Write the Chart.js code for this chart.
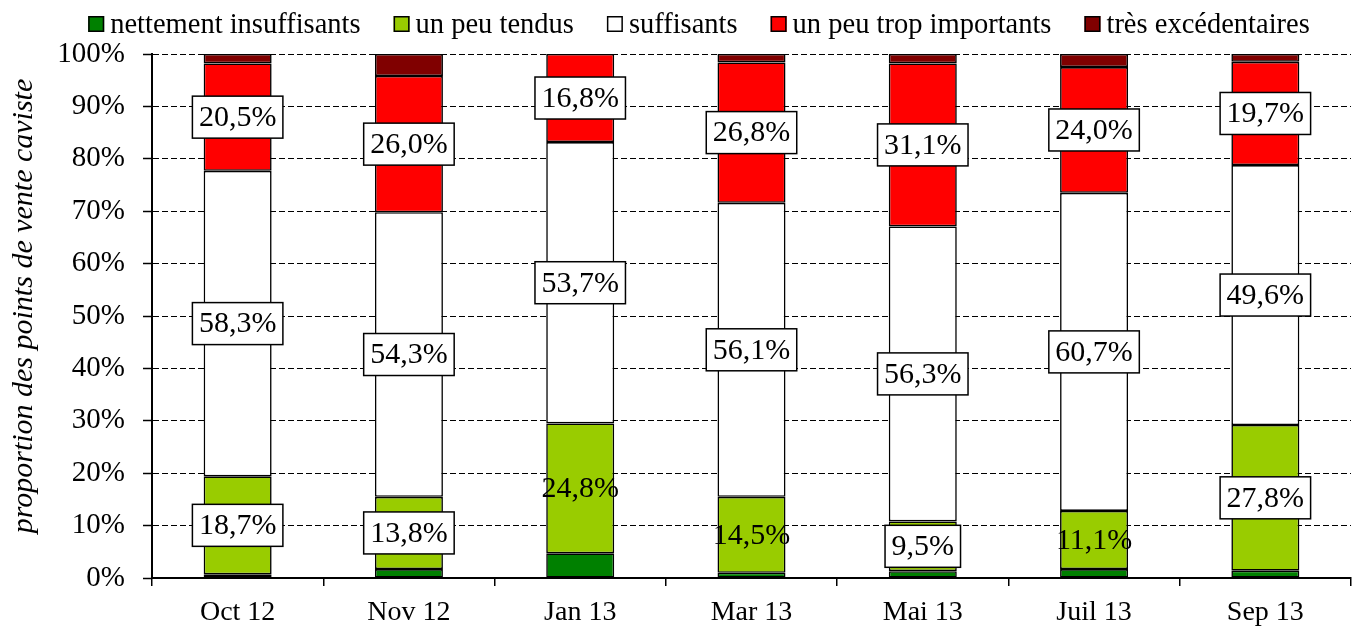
<!DOCTYPE html>
<html>
<head>
<meta charset="utf-8">
<script src="https://cdn.jsdelivr.net/npm/chart.js@4.4.1/dist/chart.umd.min.js"></script>
<style>
  html, body { margin: 0; padding: 0; background: #ffffff; }
  #wrap { width: 1354px; height: 628px; }
</style>
</head>
<body>
<div id="wrap"><canvas id="c" width="1354" height="628"></canvas></div>
<script>
// ---- data ----
const categories = ['Oct 12', 'Nov 12', 'Jan 13', 'Mar 13', 'Mai 13', 'Juil 13', 'Sep 13'];
const seriesNames = ['nettement insuffisants', 'un peu tendus', 'suffisants', 'un peu trop importants', 'très excédentaires'];
const nettementInsuffisants = [0.7, 1.7, 4.7, 1.0, 1.3, 1.7, 1.4];
const unPeuTendus = [18.7, 13.8, 24.8, 14.5, 9.5, 11.1, 27.8];
const suffisants = [58.3, 54.3, 53.7, 56.1, 56.3, 60.7, 49.6];
const unPeuTropImportants = [20.5, 26.0, 16.8, 26.8, 31.1, 24.0, 19.7];
const tresExcedentaires = [1.8, 4.2, 0, 1.6, 1.8, 2.5, 1.5];
const tendusLabelBoxed = [true, true, false, false, true, false, true];
const yAxisTitle = 'proportion des points de vente caviste';

const seriesColors = ['#008000', '#99CC00', '#FFFFFF', '#FF0000', '#800000'];
const seriesValues = [nettementInsuffisants, unPeuTendus, suffisants, unPeuTropImportants, tresExcedentaires];

const SERIF = '"Liberation Serif", "Times New Roman", serif';

function fmt(v) { return v.toFixed(1).replace('.', ',') + '%'; }

const datasets = seriesValues.map((vals, i) => ({
  label: seriesNames[i],
  data: vals,
  backgroundColor: seriesColors[i],
  borderColor: '#000000',
  borderWidth: 1.6,
  borderSkipped: false,
  categoryPercentage: 1.0,
  barPercentage: 0.397
}));

// custom legend
const legendPlugin = {
  id: 'customLegend',
  afterDraw(chart) {
    const ctx = chart.ctx;
    ctx.save();
    ctx.font = '28.5px ' + SERIF;
    ctx.textBaseline = 'alphabetic';
    ctx.textAlign = 'left';
    const box = 16, gap = 6, itemGap = 33;
    const items = chart.data.datasets.map(d => ({ text: d.label, color: d.backgroundColor, w: ctx.measureText(d.label).width }));
    let total = 0;
    items.forEach((it, k) => { total += box + gap + it.w + (k < items.length - 1 ? itemGap : 0); });
    let x = 699 - total / 2;
    items.forEach(it => {
      ctx.fillStyle = it.color;
      ctx.fillRect(x, 16, box, box);
      ctx.lineWidth = 1.5;
      ctx.strokeStyle = '#000';
      ctx.strokeRect(x + 0.75, 16.75, box - 1.5, box - 1.5);
      ctx.fillStyle = '#000';
      ctx.fillText(it.text, x + box + gap, 33);
      x += box + gap + it.w + itemGap;
    });
    ctx.restore();
  }
};

// y-axis title
const yTitlePlugin = {
  id: 'yTitle',
  afterDraw(chart) {
    const ctx = chart.ctx;
    const area = chart.chartArea;
    ctx.save();
    ctx.translate(24, area.top + (area.bottom - area.top) * 0.481);
    ctx.rotate(-Math.PI / 2);
    ctx.font = 'italic 30px ' + SERIF;
    ctx.fillStyle = '#000';
    ctx.textAlign = 'center';
    ctx.textBaseline = 'middle';
    ctx.fillText(yAxisTitle, 0, 0);
    ctx.restore();
  }
};

// data labels
const labelPlugin = {
  id: 'segLabels',
  afterDatasetsDraw(chart) {
    const ctx = chart.ctx;
    ctx.save();
    ctx.font = '30px ' + SERIF;
    ctx.textAlign = 'center';
    ctx.textBaseline = 'middle';
    [1, 2, 3].forEach(di => {
      const meta = chart.getDatasetMeta(di);
      const vals = chart.data.datasets[di].data;
      meta.data.forEach((el, i) => {
        const v = vals[i];
        if (!v) return;
        const x = el.x;
        const y = (el.y + el.base) / 2;
        const txt = fmt(v);
        const boxed = di !== 1 || tendusLabelBoxed[i];
        if (boxed) {
          const w = ctx.measureText(txt).width + 13;
          const h = 42;
          ctx.fillStyle = '#FFFFFF';
          ctx.fillRect(x - w / 2, y - h / 2, w, h);
          ctx.lineWidth = 1.5;
          ctx.strokeStyle = '#000';
          ctx.strokeRect(x - w / 2, y - h / 2, w, h);
        }
        ctx.fillStyle = '#000';
        ctx.fillText(txt, x, y + 1);
      });
    });
    ctx.restore();
  }
};

new Chart(document.getElementById('c'), {
  type: 'bar',
  data: { labels: categories, datasets: datasets },
  options: {
    responsive: false,
    animation: false,
    devicePixelRatio: 1,
    layout: { padding: { top: 54, right: 3, left: 0, bottom: 0 } },
    plugins: {
      legend: { display: false },
      tooltip: { enabled: false },
      title: { display: false }
    },
    scales: {
      x: {
        stacked: true,
        afterFit(scale) { scale.height = 50; },
        grid: {
          display: true,
          drawOnChartArea: false,
          drawTicks: true,
          tickLength: 8,
          color: '#000',
          lineWidth: 1.5,
          offset: true
        },
        border: { display: true, color: '#000', width: 2 },
        ticks: {
          color: '#000',
          font: { family: SERIF, size: 28 },
          padding: 10,
          autoSkip: false,
          maxRotation: 0
        }
      },
      y: {
        stacked: true,
        min: 0,
        max: 100,
        afterFit(scale) { scale.width = 152; },
        grid: {
          display: true,
          drawOnChartArea: true,
          drawTicks: true,
          tickLength: 9,
          color: '#000',
          lineWidth: 1,
          tickColor: '#000',
          tickWidth: 1.5
        },
        border: { display: true, color: '#000', width: 2, dash: [6, 3] },
        ticks: {
          stepSize: 10,
          color: '#000',
          font: { family: SERIF, size: 29 },
          padding: 18,
          callback: v => v + '%'
        }
      }
    }
  },
  plugins: [legendPlugin, yTitlePlugin, labelPlugin]
});
</script>
</body>
</html>
